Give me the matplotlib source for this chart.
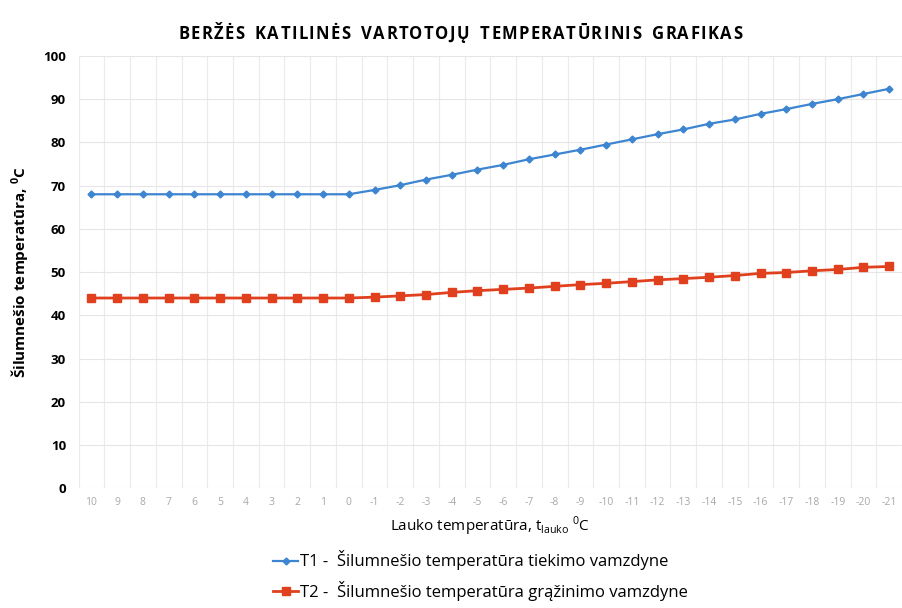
import matplotlib
matplotlib.use("Agg")
import matplotlib.pyplot as plt

plt.rcParams['font.family'] = ['Open Sans', 'DejaVu Sans']

# outdoor temperature categories (as printed on the chart)
x_labels = ['10', '9', '8', '7', '6', '5', '4', '3', '2', '1', '0',
            '-1', '-2', '-3', '-4', '-5', '-6', '-7', '-8', '-9', '-10',
            '-11', '-12', '-13', '-14', '-15', '-16', '-17', '-18', '-19',
            '-20', '-21']

# supply temperature, values
t1 = [68.0, 68.0, 68.0, 68.0, 68.0, 68.0, 68.0, 68.0, 68.0, 68.0, 68.0,
      69.0, 70.1, 71.4, 72.5, 73.7, 74.8, 76.1, 77.2, 78.3, 79.5,
      80.7, 81.9, 83.0, 84.3, 85.3, 86.6, 87.7, 88.9, 90.0, 91.2, 92.4]
# return temperature
t2 = [44.0, 44.0, 44.0, 44.0, 44.0, 44.0, 44.0, 44.0, 44.0, 44.0, 44.0,
      44.2, 44.5, 44.8, 45.3, 45.7, 46.0, 46.3, 46.7, 47.1, 47.4,
      47.8, 48.2, 48.5, 48.8, 49.2, 49.7, 49.9, 50.3, 50.6, 51.1, 51.3]

title = 'BERŽĖS KATILINĖS VARTOTOJŲ TEMPERATŪRINIS GRAFIKAS'

x = list(range(len(x_labels)))

fig = plt.figure(figsize=(9.03, 6.08), dpi=100)
ax = fig.add_axes([0.087, 0.197, 0.912, 0.711])

ax.plot(x, t1, color='#3d85d1', lw=1.6, marker='D', ms=3.5,
        label='T1 -  Šilumnešio temperatūra tiekimo vamzdyne')
ax.plot(x, t2, color='#e0401e', lw=2.0, marker='s', ms=6,
        label='T2 -  Šilumnešio temperatūra grąžinimo vamzdyne')

ax.set_xlim(-0.5, len(x) - 0.5)
ax.set_ylim(0, 100)
ax.set_yticks(range(0, 101, 10))
ax.set_xticks(x)
ax.set_xticklabels(x_labels, fontsize=7.5, color='#a8a8a8')
ax.tick_params(axis='y', labelsize=9.5, length=0, pad=9)
for lab in ax.get_yticklabels():
    lab.set_fontweight('bold')
ax.tick_params(axis='x', length=0, pad=6)

# light grid: horizontal at every 10, vertical between categories
ax.set_axisbelow(True)
ax.grid(axis='y', color='#e6e6e6', lw=0.8)
for b in range(len(x) + 1):
    ax.axvline(b - 0.5, color='#ebebeb', lw=0.8, zorder=0)
for s in ax.spines.values():
    s.set_visible(False)

# title with a bit of letter spacing
fig.canvas.draw()
r = fig.canvas.get_renderer()
fs, track = 12, 1.35
widths = []
for ch in title:
    t = fig.text(0, 0, ch if ch != ' ' else 'i', fontsize=fs, fontweight='bold')
    w = t.get_window_extent(r).width
    if ch == ' ':
        w *= 1.6
    widths.append(w)
    t.remove()
total = sum(widths) + track * (len(title) - 1)
xpos = 460 - total / 2
for ch, w in zip(title, widths):
    if ch != ' ':
        fig.text(xpos / 903, 1 - 34 / 608, ch, fontsize=fs, fontweight='bold',
                 ha='left', va='center')
    xpos += w + track

ax.set_ylabel('Šilumnešio temperatūra, $^{\\mathregular{0}}$C',
              fontsize=11, fontweight='bold', labelpad=9)
ax.set_xlabel('Lauko temperatūra, t$_{\\mathregular{lauko}}$ $^{\\mathregular{0}}$C',
              fontsize=11, labelpad=5)

fig.legend(loc='center', bbox_to_anchor=(0.532, 0.053), frameon=False,
           fontsize=12, handlelength=1.5, handletextpad=0.1, labelspacing=0.65)

fig.savefig('out.png', dpi=100)
